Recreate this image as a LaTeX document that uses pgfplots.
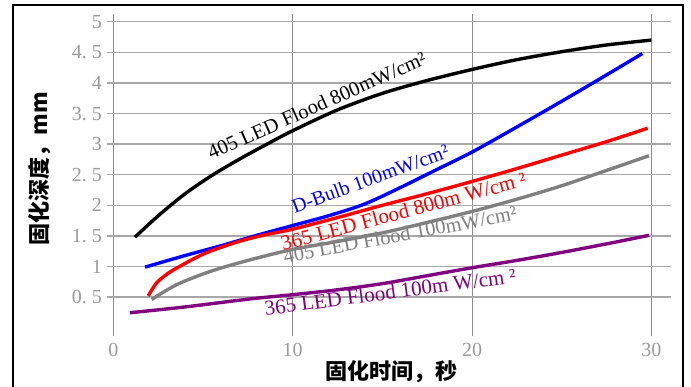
\documentclass[border=0pt]{standalone}
\usepackage{fontspec}
\setmainfont{Liberation Serif}
\newfontfamily\cjk{Noto Sans CJK SC}
\usepackage{pgfplots}
\pgfplotsset{compat=1.18}
\definecolor{tickgray}{RGB}{155,155,155}
\definecolor{hgrid}{RGB}{168,168,168}
\definecolor{vgrid}{RGB}{140,140,140}
\definecolor{pur}{RGB}{128,0,128}
\definecolor{gr}{RGB}{128,128,128}
\begin{document}
\begin{tikzpicture}
\useasboundingbox (0pt,0pt) rectangle (691pt,386pt);
\draw[line width=2pt] (13pt,-20pt) rectangle (683pt,380.5pt);
\begin{axis}[
  at={(107pt,49.7pt)}, anchor=south west,
  scale only axis, width=564pt, height=321.9pt,
  xmin=-0.36, xmax=31.1, ymin=-0.14, ymax=5.12,
  axis line style={draw=none},
  xtick={0,10,20,30},
  ytick={0.5,1,1.5,2,2.5,3,3.5,4,4.5,5},
  yticklabels={0.\hspace{5pt}5,1,1.\hspace{5pt}5,2,2.\hspace{5pt}5,3,3.\hspace{5pt}5,4,4.\hspace{5pt}5,5},
  grid=major,
  major tick length=0pt,
  tick style={draw=none},
  x grid style={vgrid, line width=1pt},
  y grid style={hgrid, line width=1.4pt},
  /pgf/number format/assume math mode=true,
  tick label style={font=\fontsize{20}{24}\selectfont, text=tickgray},
  yticklabel style={inner sep=0pt, xshift=-5pt},
  xticklabel style={inner sep=0pt, yshift=-7pt},
  every axis y label/.style={at={(axis description cs:-0.119,0.521)}, rotate=90, anchor=center},
  every axis x label/.style={at={(axis description cs:0.505,-0.111)}, anchor=center},
  ylabel={\cjk\bfseries\fontsize{22}{26}\selectfont 固化深度，mm},
  xlabel={\cjk\bfseries\fontsize{22}{26}\selectfont 固化时间，秒},
  clip=true,
]
\addplot[black, line width=3.4pt, smooth] coordinates {
(1.2,1.48)(2.5,1.83)(4,2.19)(5.5,2.49)(7,2.75)(8.5,2.99)(10,3.22)(12.5,3.56)(15,3.83)(17.5,4.04)(20,4.22)(22.5,4.38)(25,4.51)(27.5,4.62)(30,4.70)};
\addplot[blue, line width=3.4pt, smooth] coordinates {
(1.76,0.99)(4,1.18)(6,1.34)(8,1.51)(10,1.67)(12,1.83)(14,2.02)(16,2.29)(18,2.58)(20,2.87)(22.5,3.28)(25,3.70)(27.5,4.13)(29.5,4.48)};
\addplot[red, line width=3.4pt, smooth] coordinates {
(1.94,0.52)(2.4,0.73)(3,0.88)(3.5,0.97)(4.5,1.13)(5.4,1.25)(7,1.41)(8.5,1.52)(10,1.61)(12.5,1.80)(15,2.0)(17.5,2.19)(20,2.39)(22.5,2.60)(25,2.82)(27.5,3.04)(29.8,3.26)};
\addplot[gr, line width=3.4pt, smooth] coordinates {
(2.13,0.46)(3.5,0.70)(5.4,0.92)(7.5,1.10)(10,1.28)(12.5,1.41)(15,1.55)(17.5,1.72)(20,1.90)(22.5,2.10)(25,2.32)(27.5,2.57)(29.87,2.81)};
\addplot[pur, line width=3.4pt, smooth] coordinates {
(0.92,0.245)(4,0.34)(7.6,0.47)(10,0.54)(12.5,0.62)(15,0.72)(17.5,0.85)(20,0.98)(22.5,1.10)(25,1.23)(27.5,1.37)(29.87,1.51)};
\node[rotate=24, anchor=base, text=black, font=\fontsize{20.5}{24}\selectfont, inner sep=0pt] at (axis cs:11.5,3.53) {405 LED Flood 800mW/cm²};
\node[rotate=20, anchor=base, text=blue, font=\fontsize{20}{24}\selectfont, inner sep=0pt] at (axis cs:14.45,2.33) {D-Bulb 100mW/cm²};
\node[rotate=15, anchor=base, text=red, font=\fontsize{21}{24}\selectfont, inner sep=0pt] at (axis cs:16.28,1.79) {365 LED Flood 800m W/cm ²};
\node[rotate=10.5, anchor=base, text=gr, font=\fontsize{20.5}{24}\selectfont, inner sep=0pt] at (axis cs:16.06,1.41) {405 LED Flood 100mW/cm²};
\node[rotate=7.5, anchor=base, text=pur, font=\fontsize{21}{24}\selectfont, inner sep=0pt] at (axis cs:15.49,0.47) {365 LED Flood 100m W/cm ²};
\end{axis}
\end{tikzpicture}
\end{document}
